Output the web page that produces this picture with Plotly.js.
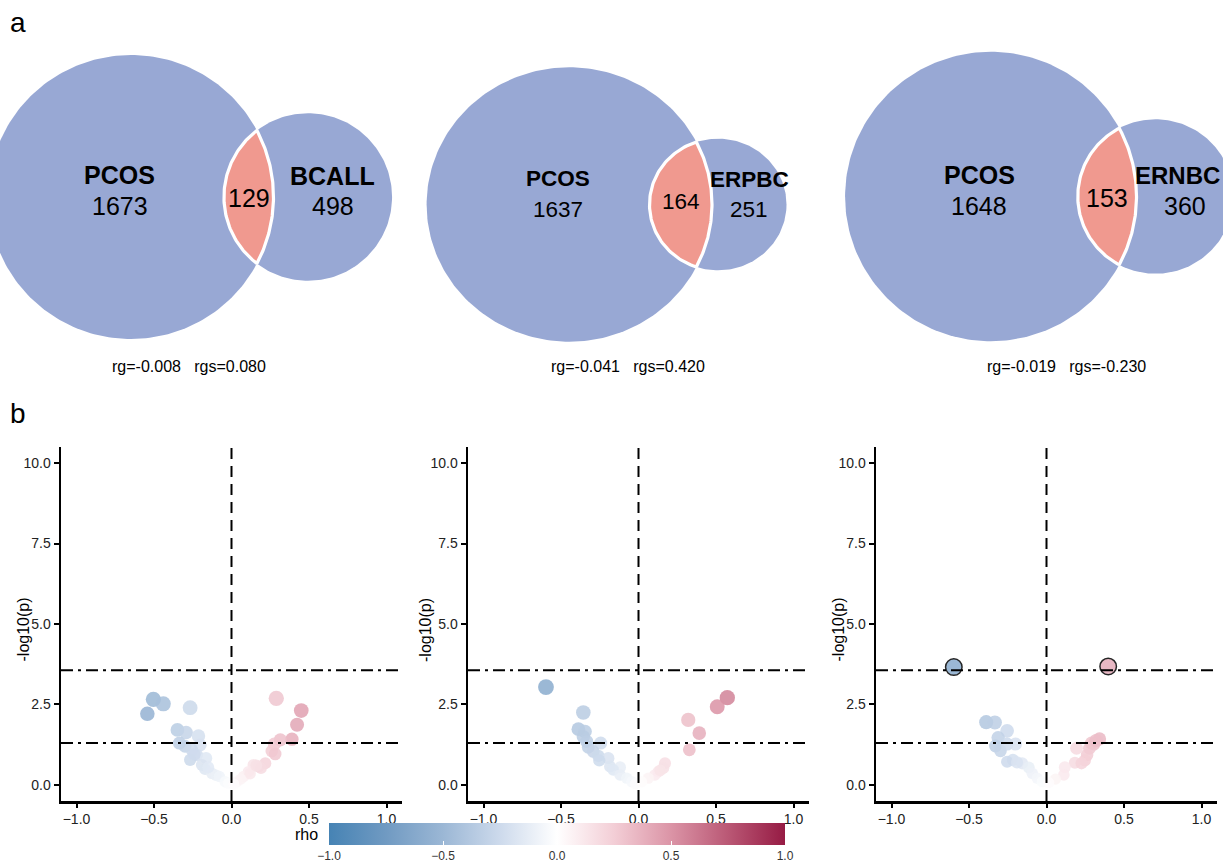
<!DOCTYPE html>
<html><head><meta charset="utf-8">
<script src="https://cdn.plot.ly/plotly-3.0.1.min.js"></script>
<style>html,body{margin:0;padding:0;background:#fff}</style>
</head><body><div id="chart" style="width:1223px;height:863px"></div>
<script>
// ---------- Panel a: Venn data ----------
const vennOther = ["BCALL", "ERPBC", "ERNBC"];
const vennPcosOnly = [1673, 1637, 1648];
const vennOtherOnly = [498, 251, 360];
const vennOverlap = [129, 164, 153];
const rgValues = [-0.008, -0.041, -0.019];
const rgsValues = [0.080, 0.420, -0.230];

// ---------- Panel b: scatter data (rho, -log10 p) ----------
const p1Rho = [-0.543,-0.504,-0.44,-0.267,-0.349,-0.293,-0.213,-0.336,-0.202,-0.30,-0.256,-0.224,-0.164,-0.267,-0.191,-0.17,-0.127,-0.10,-0.078,-0.041,-0.02,-0.24,-0.15,
               0.289,0.45,0.423,0.39,0.315,0.276,0.26,0.282,0.218,0.175,0.142,0.19,0.11,0.078,0.035,0.12,0.16,0.06,0.015];
const p1LogP = [2.21,2.66,2.52,2.40,1.71,1.63,1.52,1.30,1.24,1.20,1.09,0.93,0.83,0.78,0.62,0.49,0.36,0.30,0.26,0.10,0.05,0.95,0.55,
                2.69,2.31,1.87,1.42,1.40,1.27,1.05,0.96,0.67,0.57,0.62,0.52,0.41,0.26,0.10,0.35,0.60,0.18,0.03];
const p2Rho = [-0.597,-0.356,-0.388,-0.345,-0.356,-0.334,-0.244,-0.324,-0.292,-0.259,-0.195,-0.253,-0.184,-0.119,-0.163,-0.119,-0.076,-0.044,-0.02,
               0.573,0.508,0.321,0.392,0.328,0.171,0.16,0.128,0.106,0.063,0.02,0.14];
const p2LogP = [3.04,2.25,1.73,1.66,1.50,1.35,1.30,1.17,1.04,0.90,0.83,0.76,0.57,0.55,0.47,0.31,0.21,0.10,0.04,
                2.71,2.43,2.02,1.61,1.09,0.67,0.52,0.41,0.31,0.21,0.10,0.45];
const p3Rho = [-0.598,-0.389,-0.333,-0.254,-0.312,-0.329,-0.297,-0.254,-0.2,-0.217,-0.157,-0.114,-0.092,-0.06,-0.028,-0.254,-0.19,
               0.398,0.342,0.305,0.277,0.194,0.262,0.247,0.183,0.226,0.118,0.112,0.058,0.015,0.29,0.32];
const p3LogP = [3.66,1.95,1.94,1.68,1.47,1.21,1.06,1.27,1.27,0.78,0.67,0.54,0.36,0.21,0.10,0.72,0.70,
                3.68,1.43,1.27,1.14,1.14,0.93,0.76,0.69,0.67,0.55,0.31,0.18,0.07,1.30,1.38];
const pThresholds = [1.30, 3.56];
const xTicks = [-1, -0.5, 0, 0.5, 1];
const yTicks = [0, 2.5, 5, 7.5, 10];

// ---------- layout constants (pixels) ----------
const W = 1223, H = 863;
const px = v => v / W, py = v => 1 - v / H;
const FONT = "Liberation Sans, Arial, sans-serif";
const circleFill = "#98A8D4", lensFill = "#F0998F";

// Venn panel placement: domain px, big-circle centre px, px per unit
const vennDom = [[0, 410], [410, 820], [820, 1223]];
const vennCentre = [[131, 197], [569.3, 204.5], [990.8, 196.5]];
const vennScale = [[5.95, 5.93], [5.96, 5.73], [6.086, 6.044]];
const vennLabelLift = [0, 4, 0];
const vennNameNudge = [0, 0, -7];
const vennOtherNameFont = [25, 22.5, 24];
const vennTop = 30, vennBottom = 355;
const nameFont = [25, 22.5, 25];
const rgLabelX = [189, 628, 1066];

function lensArea(r1, r2, d) {
  if (d >= r1 + r2) return 0;
  if (d <= Math.abs(r1 - r2)) return Math.PI * Math.min(r1, r2) ** 2;
  const a = r1 * r1 * Math.acos((d * d + r1 * r1 - r2 * r2) / (2 * d * r1));
  const b = r2 * r2 * Math.acos((d * d + r2 * r2 - r1 * r1) / (2 * d * r2));
  const c = 0.5 * Math.sqrt((-d + r1 + r2) * (d + r1 - r2) * (d - r1 + r2) * (d + r1 + r2));
  return a + b - c;
}
function solveD(r1, r2, area) {
  let lo = Math.abs(r1 - r2), hi = r1 + r2;
  for (let i = 0; i < 80; i++) {
    const mid = (lo + hi) / 2;
    if (lensArea(r1, r2, mid) > area) lo = mid; else hi = mid;
  }
  return (lo + hi) / 2;
}
function arc(cx, cy, r, a0, a1, n) {
  const xs = [], ys = [];
  for (let i = 0; i <= n; i++) {
    const t = a0 + (a1 - a0) * i / n;
    xs.push(cx + r * Math.cos(t)); ys.push(cy + r * Math.sin(t));
  }
  return [xs, ys];
}

const traces = [];
const annotations = [];
const layout = {
  width: W, height: H, margin: {l: 0, r: 0, t: 0, b: 0, autoexpand: false},
  paper_bgcolor: "#fff", plot_bgcolor: "rgba(0,0,0,0)", showlegend: false,
  font: {family: FONT, color: "#000"},
  shapes: [], annotations: annotations,
  coloraxis: {
    cmin: -1, cmax: 1,
    colorscale: [[0, "rgb(70,131,180)"], [0.125, "rgb(112,154,194)"], [0.25, "rgb(155,183,213)"], [0.375, "rgb(205,218,236)"],
                 [0.5, "rgb(255,255,255)"], [0.625, "rgb(243,206,214)"], [0.75, "rgb(219,148,166)"], [0.875, "rgb(186,88,117)"], [1, "rgb(150,27,68)"]],
    colorbar: {
      orientation: "h", x: px(557), xanchor: "center", y: py(823), yanchor: "top",
      len: 456, lenmode: "pixels", thickness: 22, thicknessmode: "pixels",
      xpad: 0, ypad: 0, outlinewidth: 0,
      tickvals: xTicks, tickformat: ".1f", ticks: "inside", ticklen: 4, tickcolor: "#fff", tickwidth: 1,
      tickfont: {size: 12, color: "#333", family: FONT}
    }
  }
};

// ----- Venn diagrams -----
for (let i = 0; i < 3; i++) {
  const k = i + 4;
  const xa = "x" + k, ya = "y" + k;
  const A1 = vennPcosOnly[i] + vennOverlap[i];
  const A2 = vennOtherOnly[i] + vennOverlap[i];
  const r1 = Math.sqrt(A1 / Math.PI), r2 = Math.sqrt(A2 / Math.PI);
  const d = solveD(r1, r2, vennOverlap[i]);
  const [d0, d1] = vennDom[i];
  const [cx, cy] = vennCentre[i];
  const [sx, sy] = vennScale[i];
  layout["xaxis" + k] = {domain: [px(d0), px(d1)], range: [(d0 - cx) / sx, (d1 - cx) / sx], visible: false, fixedrange: true, anchor: ya};
  layout["yaxis" + k] = {domain: [py(vennBottom), py(vennTop)], range: [(cy - vennBottom) / sy, (cy - vennTop) / sy], visible: false, fixedrange: true, anchor: xa};
  const c1 = arc(0, 0, r1, 0, 2 * Math.PI, 240);
  const c2 = arc(d, 0, r2, 0, 2 * Math.PI, 200);
  traces.push({type: "scatter", mode: "lines", x: c1[0], y: c1[1], fill: "toself", fillcolor: circleFill, line: {width: 0, color: circleFill}, xaxis: xa, yaxis: ya, hoverinfo: "skip"});
  traces.push({type: "scatter", mode: "lines", x: c2[0], y: c2[1], fill: "toself", fillcolor: circleFill, line: {width: 0, color: circleFill}, xaxis: xa, yaxis: ya, hoverinfo: "skip"});
  const xi = (d * d + r1 * r1 - r2 * r2) / (2 * d);
  const h = Math.sqrt(r1 * r1 - xi * xi);
  const t1 = Math.atan2(h, xi), t2 = Math.atan2(h, d - xi);
  const a1 = arc(0, 0, r1, -t1, t1, 80);
  const a2 = arc(d, 0, r2, Math.PI - t2, Math.PI + t2, 80);
  traces.push({type: "scatter", mode: "lines", x: a1[0].concat(a2[0]), y: a1[1].concat(a2[1]), fill: "toself", fillcolor: lensFill,
               line: {width: 3.2, color: "#fff"}, xaxis: xa, yaxis: ya, hoverinfo: "skip"});
  const fs = nameFont[i];
  const lensMid = ((d - r2) + r1) / 2;
  const otherMid = (r1 + (d + r2)) / 2;
  const pcosX = -0.08 * r1;
  const lift = vennLabelLift[i];
  const nameShift = 22 + lift, countShift = -9 + lift;
  annotations.push({xref: xa, yref: ya, x: pcosX, y: 0, yshift: nameShift, text: "<b>PCOS</b>", showarrow: false, font: {size: fs, family: FONT, color: "#000"}});
  annotations.push({xref: xa, yref: ya, x: pcosX, y: 0, yshift: countShift, text: String(vennPcosOnly[i]), showarrow: false, font: {size: fs, family: FONT, color: "#000"}});
  annotations.push({xref: xa, yref: ya, x: lensMid, y: 0, yshift: -1 + lift, text: String(vennOverlap[i]), showarrow: false, font: {size: fs, family: FONT, color: "#000"}});
  annotations.push({xref: xa, yref: ya, x: otherMid, y: 0, xshift: vennNameNudge[i], yshift: nameShift - 1, text: "<b>" + vennOther[i] + "</b>", showarrow: false, font: {size: vennOtherNameFont[i], family: FONT, color: "#000"}});
  annotations.push({xref: xa, yref: ya, x: otherMid, y: 0, yshift: countShift, text: String(vennOtherOnly[i]), showarrow: false, font: {size: fs, family: FONT, color: "#000"}});
  annotations.push({xref: "paper", yref: "paper", x: px(rgLabelX[i]), y: py(366), xanchor: "center", yanchor: "middle",
                    text: "rg=" + rgValues[i].toFixed(3) + "\u00a0\u00a0\u00a0rgs=" + rgsValues[i].toFixed(3), showarrow: false,
                    font: {size: 16, family: FONT, color: "#000"}});
}

// ----- Scatter panels -----
const scatterDom = [[61, 402], [468, 809], [876, 1217]];
const yTitleX = [22.5, 425, 837.5];
const rhoSets = [p1Rho, p2Rho, p3Rho];
const logpSets = [p1LogP, p2LogP, p3LogP];
for (let i = 0; i < 3; i++) {
  const s = i === 0 ? "" : String(i + 1);
  const xa = "x" + s, ya = "y" + s;
  layout["xaxis" + s] = {
    domain: [px(scatterDom[i][0]), px(scatterDom[i][1])], range: [-1.1, 1.1], anchor: ya,
    showline: true, linewidth: 2.5, linecolor: "#000", ticks: "outside", ticklen: 4, tickwidth: 2, tickcolor: "#000",
    tickvals: xTicks, tickformat: ".1f", tickfont: {size: 14, color: "#222", family: FONT},
    showgrid: false, zeroline: false, fixedrange: true
  };
  layout["yaxis" + s] = {
    domain: [py(801), py(447)], range: [-0.5, 10.5], anchor: xa,
    showline: true, linewidth: 2.5, linecolor: "#000", ticks: "outside", ticklen: 5, tickwidth: 2, tickcolor: "#000",
    tickvals: yTicks, tickformat: ".1f", tickfont: {size: 14, color: "#222", family: FONT},
    showgrid: false, zeroline: false, fixedrange: true
  };
  annotations.push({xref: "paper", yref: "paper", x: px(yTitleX[i]), y: py(630), xanchor: "center", yanchor: "middle",
                    text: "-log10(p)", textangle: -90, showarrow: false, font: {size: 16, family: FONT, color: "#000"}});
  const xr = xa === "x" ? "x domain" : xa + " domain";
  const yr = ya === "y" ? "y domain" : ya + " domain";
  layout.shapes.push({type: "line", xref: xa, yref: yr, x0: 0, x1: 0, y0: 0, y1: 1, line: {color: "#000", width: 2, dash: "11px,7px"}, layer: "above"});
  pThresholds.forEach(t => {
    layout.shapes.push({type: "line", xref: xr, yref: ya, x0: 0, x1: 1, y0: t, y1: t, line: {color: "#000", width: 2, dash: "12px,5px,3px,5px"}, layer: "above"});
  });
  const rho = rhoSets[i], lp = logpSets[i];
  traces.push({
    type: "scatter", mode: "markers", x: rho, y: lp, xaxis: xa, yaxis: ya, hoverinfo: "x+y",
    marker: {
      color: rho, coloraxis: "coloraxis", opacity: 0.85,
      size: lp.map(v => Math.min(16.5, 11 + 1.6 * v)),
      line: {color: "#000", width: lp.map(v => v > pThresholds[1] ? 1.5 : 0)}
    },
    cliponaxis: false
  });
}

// panel letters and colour bar label
annotations.push({xref: "paper", yref: "paper", x: px(8), y: py(22), xanchor: "left", yanchor: "middle", text: "a", showarrow: false, font: {size: 28, family: FONT, color: "#000"}});
annotations.push({xref: "paper", yref: "paper", x: px(8), y: py(413), xanchor: "left", yanchor: "middle", text: "b", showarrow: false, font: {size: 28, family: FONT, color: "#000"}});
annotations.push({xref: "paper", yref: "paper", x: px(320), y: py(834), xanchor: "right", yanchor: "middle", text: "rho", showarrow: false, font: {size: 16, family: FONT, color: "#000"}});

Plotly.newPlot("chart", traces, layout, {staticPlot: true, displayModeBar: false});
</script></body></html>
